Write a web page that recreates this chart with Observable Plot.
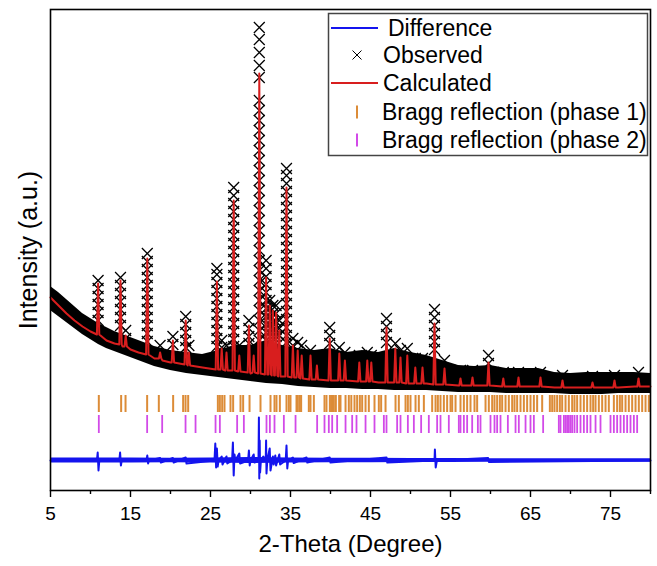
<!DOCTYPE html>
<html><head><meta charset="utf-8">
<script src="https://cdn.jsdelivr.net/npm/d3@7"></script>
<script src="https://cdn.jsdelivr.net/npm/@observablehq/plot@0.6"></script>
<style>
body{margin:0;background:#fff;}
#wrap{position:relative;width:657px;height:566px;}
#legend{position:absolute;left:0;top:0;pointer-events:none;}
</style></head><body><div id="wrap"></div>
<script>
// ---- data (intensity in arbitrary units) ----
const xTicks = [5, 15, 25, 35, 45, 55, 65, 75];
const xMinorTicks = [10, 20, 30, 40, 50, 60, 70, 80];

const bgX    = [5,6,7,8,9,10,11,12,13,14,15,16,17,18,19,20,22,24,26,28,30,32,34,36,38,40,42,44,46,48,50,52,54,56,58,60,62,64,66,68,70,72,74,76,78,80];
const bgCalc = [1630,1550,1470,1400,1340,1290,1240,1200,1170,1140,1110,1080,1050,1020,1000,980,950,930,910,890,870,850,840,820,810,800,800,790,780,780,770,770,760,750,750,750,740,740,740,730,730,730,730,730,740,740];
const bandHi = [1740,1680,1610,1540,1470,1420,1370,1330,1290,1260,1230,1200,1170,1140,1120,1100,1080,1060,1100,1150,1150,1200,1150,1120,1100,1120,1080,1100,1080,1120,1080,1050,1000,950,940,950,920,920,920,880,870,880,880,880,880,870];
const bandLo = [1500,1440,1380,1320,1260,1210,1160,1120,1090,1060,1030,1000,970,940,920,900,870,850,830,810,790,770,760,740,730,720,720,710,710,700,700,700,690,680,680,680,670,670,670,670,660,660,660,670,670,670];

const peakPos  = [10.95,13.75,14.4,17.1,18.7,20.3,21.9,22.3,25.8,26.4,27.0,27.9,28.6,29.8,30.4,31.1,31.95,32.4,32.8,33.2,33.6,34.5,35.3,35.9,36.4,37.5,38.3,39.9,41.1,41.8,43.6,44.6,45.1,47.0,48.1,48.75,49.6,50.6,51.5,53.0,54.25,56.25,57.75,59.75,61.6,63.5,66.25,69.0,72.75,75.5,78.5];
const peakBase = [1260,1160,1140,1060,1020,980,960,950,910,910,900,900,890,880,880,870,860,860,850,850,840,840,830,830,820,810,810,800,800,800,790,790,790,780,780,780,770,770,770,760,760,750,750,750,740,740,740,730,730,730,740];
const peakCalc = [1770,1800,1250,2020,1080,1200,1400,1080,1790,1120,1080,2600,1050,1350,1050,3870,1830,1550,1500,1480,1300,2730,1150,1100,1050,1050,950,1220,1070,1000,980,1000,980,1330,1120,1030,1050,930,930,1370,920,820,830,980,820,830,830,800,780,800,820];

const obsPeakX = [10.95,13.75,14.4,17.1,18.7,20.3,21.9,22.3,25.8,26.4,27.0,27.9,28.6,29.8,30.4,31.1,31.95,32.4,32.8,33.2,33.6,34.5,35.3,35.9,36.4,37.5,38.3,39.9,41.1,41.8,43.6,44.6,45.1,47.0,48.1,48.75,49.6,50.6,51.5,53.0,54.25,56.25,57.75,59.75,61.6,63.5,66.25,69.0,72.75,75.5,78.5];
const obsPeakY = [
  [1800,1720,1640,1560,1480,1400],
  [1830,1750,1670,1590,1510,1430,1350],
  [1300,1220],
  [2070,1990,1910,1830,1750,1670,1590,1510,1430,1350,1270,1190],
  [1150],
  [1240,1160],
  [1440,1360,1280,1200,1130],
  [1150],
  [1920,1860,1780,1700,1620,1540,1460,1380,1300,1220,1140],
  [1200,1130],
  [1150],
  [2730,2650,2570,2490,2410,2330,2250,2170,2090,2010,1930,1850,1770,1690,1610,1530,1450,1370,1290,1210,1140],
  [1150],
  [1400,1320,1240,1170],
  [1150],
  [4330,4210,4080,3950,3830,3600,3500,3400,3300,3200,3100,3000,2900,2800,2700,2600,2500,2400,2300,2200,2100,2000,1900,1800,1700,1600,1500,1400,1300,1200,1100],
  [2000,1920,1840,1760,1680,1600,1520,1440,1360,1280,1200],
  [1600,1520,1440,1360,1280],
  [1550,1470,1390,1310,1240],
  [1550,1470,1390,1310,1240],
  [1400,1320,1250],
  [2920,2850,2770,2690,2610,2530,2450,2370,2290,2210,2130,2050,1970,1890,1810,1730,1650,1570,1490,1410,1330,1250,1180],
  [1220,1150],[1180],[1150],[1100],[1050],
  [1330,1250,1170],
  [1130],[1080],[1050],[1080],[1050],
  [1420,1340,1260,1180],
  [1170],[1100],[1120],[1020],[1020],
  [1510,1430,1350,1270,1190,1110],
  [1000],[900],[900],[1050,970],[880],[880],[880],[850],[840],[850],[880]
];

const diffX = [5,10.8,10.9,11.0,11.1,13.6,13.7,13.8,13.9,17.0,17.1,17.2,17.3,18.7,18.8,20.3,20.4,21.9,22.0,25.5,25.6,25.7,25.8,25.9,26.0,26.4,26.5,27.0,27.1,27.7,27.8,27.9,28.0,28.1,28.6,28.7,29.7,29.8,29.9,30.0,30.4,30.5,31.0,31.05,31.1,31.15,31.2,31.3,31.6,31.9,31.95,32.0,32.1,32.4,32.5,32.8,32.9,33.1,33.2,33.6,33.7,34.4,34.5,34.6,34.7,35.3,35.4,37.0,37.1,39.9,40.0,47.0,47.1,53.0,53.05,53.15,53.3,59.7,59.8,80];
const diffY = [0,0,80,-100,0,0,80,-50,0,0,50,-30,0,25,-20,25,-20,30,-30,0,170,-70,120,-60,0,40,-40,40,-30,0,180,-150,60,0,70,-30,0,100,-50,0,60,-20,0,430,-180,200,-120,0,40,0,200,-130,0,120,-100,40,-40,50,-50,60,-40,0,150,-80,0,30,-25,30,-20,30,-20,30,-20,0,110,-70,0,25,-15,0];
const diffNoiseX  = [5,10,15,20,25,30,35,40,45,50,55,60,65,70,75,80];
const diffNoiseHi = [26,24,24,22,26,30,26,22,22,20,20,18,18,18,18,18];
const diffNoiseLo = [-26,-24,-24,-22,-26,-30,-26,-22,-22,-20,-20,-18,-18,-18,-18,-18];

const braggPhase1 = [11.04,13.83,14.38,17.08,18.54,20.33,21.58,21.88,22.21,25.92,26.17,26.46,26.75,27.5,27.83,28.75,29.08,29.88,31.25,32.5,33.0,33.25,33.67,34.5,34.79,35.0,35.75,35.92,36.17,36.33,37.29,37.5,37.92,39.25,39.5,39.92,40.08,40.25,40.42,40.67,41.08,41.25,41.88,42.29,42.6,43.0,43.33,43.67,43.96,44.38,44.79,45.5,46.04,46.33,46.88,48.13,48.54,49.38,49.67,50.0,50.63,51.04,51.67,52.71,53.13,53.42,53.75,54.17,54.58,55.0,55.21,55.63,56.25,56.67,57.08,57.5,58.0,58.33,59.38,59.79,60.21,60.5,60.83,61.17,61.46,61.88,62.29,62.71,63.0,63.33,63.75,64.17,64.58,65.0,65.42,65.83,66.46,67.42,67.71,68.0,68.33,68.67,68.96,69.38,69.79,70.21,70.5,70.83,71.25,71.67,72.08,72.5,72.83,73.13,73.54,73.96,74.38,74.79,75.42,75.83,76.17,76.46,76.88,77.29,77.71,78.13,78.54,78.96,79.38,79.79];
const braggPhase2 = [11.04,17.08,18.96,21.88,23.13,25.63,26.17,28.33,29.17,32.0,32.42,33.0,34.17,35.63,38.33,39.25,39.79,40.21,40.83,41.88,42.71,43.25,44.38,45.5,46.67,47.0,48.33,48.75,49.67,50.42,51.33,52.29,53.33,53.75,54.79,56.04,56.25,56.67,57.08,57.71,58.42,58.75,60.0,60.5,60.83,61.25,62.17,63.13,63.54,64.38,65.0,65.42,66.58,68.54,68.75,69.17,69.38,69.58,69.79,70.0,70.21,70.5,70.83,71.25,71.67,72.08,72.5,73.13,73.75,75.0,75.42,75.83,76.25,76.67,77.08,77.5,77.92,78.33];

const legendLabels = ["Difference", "Observed", "Calculated", "Bragg reflection (phase 1)", "Bragg reflection (phase 2)"];
const xTitle = "2-Theta (Degree)";
const yTitle = "Intensity (a.u.)";

// ---- build tables ----
const HW = 0.15; // peak half width in degrees (shape)
const band = bgX.map((x, i) => ({x, lo: bandLo[i], hi: bandHi[i]}));
const calc = [];
bgX.forEach((x, i) => {
  if (!peakPos.some(p => Math.abs(p - x) <= HW)) calc.push({x, y: bgCalc[i]});
});
peakPos.forEach((p, i) => {
  calc.push({x: p - HW, y: peakBase[i]});
  calc.push({x: p, y: peakCalc[i]});
  calc.push({x: p + HW, y: peakBase[i]});
});
calc.sort((a, b) => a.x - b.x);
const obs = [];
obsPeakX.forEach((x, i) => obsPeakY[i].forEach(y => obs.push({x, y})));
const diff = diffX.map((x, i) => ({x, y: diffY[i]}));
const diffNoise = diffNoiseX.map((x, i) => ({x, lo: diffNoiseLo[i], hi: diffNoiseHi[i]}));

const FONT = "'Liberation Sans', Arial, sans-serif";
const COL = {diff: "#1414ee", calc: "#d81e1e", p1: "#dc8c38", p2: "#d24ae8"};

const chart = Plot.plot({
  width: 657, height: 566,
  marginLeft: 50, marginRight: 7, marginTop: 9, marginBottom: 76,
  x: {domain: [5, 80]},
  y: {domain: [-300, 4510], axis: null},
  style: {fontFamily: FONT, color: "#000", background: "#fff"},
  marks: [
    Plot.areaY(band, {x: "x", y1: "lo", y2: "hi", fill: "#000"}),
    Plot.dot(obs, {x: "x", y: "y", symbol: "times", r: 5, stroke: "#000", strokeWidth: 1.3}),
    Plot.line(calc, {x: "x", y: "y", stroke: COL.calc, strokeWidth: 2}),
    Plot.ruleX(braggPhase1, {x: d => d, y1: 480, y2: 650, stroke: COL.p1, strokeWidth: 2}),
    Plot.ruleX(braggPhase2, {x: d => d, y1: 270, y2: 450, stroke: COL.p2, strokeWidth: 1.8}),
    Plot.areaY(diffNoise, {x: "x", y1: "lo", y2: "hi", fill: COL.diff}),
    Plot.line(diff, {x: "x", y: "y", stroke: COL.diff, strokeWidth: 2}),
    Plot.frame({stroke: "#000", strokeWidth: 1.6}),
    Plot.axisX({ticks: xTicks, tickSize: 7, tickPadding: 9, fontSize: 19, label: null, strokeWidth: 1.4}),
    Plot.axisX({ticks: xMinorTicks, tickSize: 4, tickFormat: () => "", label: null, strokeWidth: 1.4}),
    Plot.text([xTitle], {frameAnchor: "bottom", dy: 61, fontSize: 24, text: d => d}),
    Plot.text([yTitle], {frameAnchor: "left", dx: -22, rotate: -90, textAnchor: "middle", fontSize: 25, text: d => d})
  ]
});
document.getElementById("wrap").appendChild(chart);

// ---- legend overlay ----
const lg = d3.select("#wrap").append("svg").attr("id", "legend").attr("width", 657).attr("height", 566)
  .style("font-family", FONT);
lg.append("rect").attr("x", 328.5).attr("y", 13.5).attr("width", 319).attr("height", 142)
  .attr("fill", "#fff").attr("stroke", "#444").attr("stroke-width", 1.5);
const rowY = [28, 55, 83, 112, 140];
const textX = [388, 383, 383, 382, 382];
lg.append("line").attr("x1", 331).attr("x2", 378).attr("y1", rowY[0]).attr("y2", rowY[0]).attr("stroke", COL.diff).attr("stroke-width", 2);
lg.append("path").attr("d", `M${357-4.5},${rowY[1]-4.5}L${357+4.5},${rowY[1]+4.5}M${357-4.5},${rowY[1]+4.5}L${357+4.5},${rowY[1]-4.5}`).attr("stroke", "#000").attr("stroke-width", 1);
lg.append("line").attr("x1", 331).attr("x2", 378).attr("y1", rowY[2]).attr("y2", rowY[2]).attr("stroke", COL.calc).attr("stroke-width", 2);
lg.append("line").attr("x1", 357).attr("x2", 357).attr("y1", rowY[3]-6.5).attr("y2", rowY[3]+6.5).attr("stroke", COL.p1).attr("stroke-width", 2);
lg.append("line").attr("x1", 357).attr("x2", 357).attr("y1", rowY[4]-6.5).attr("y2", rowY[4]+6.5).attr("stroke", COL.p2).attr("stroke-width", 2);
legendLabels.forEach((t, i) => {
  lg.append("text").attr("x", textX[i]).attr("y", rowY[i]).attr("dy", "0.35em")
    .attr("font-size", 23).attr("fill", "#000").text(t);
});
</script>
</body></html>
